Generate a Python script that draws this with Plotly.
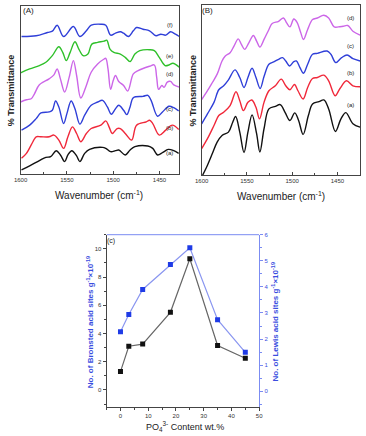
import plotly.graph_objects as go

W, H = 366, 436

# ---------------- Panel A data (wavenumber, %T arbitrary) ----------------
a_f_x = [1599.0, 1583.2, 1571.0, 1565.7, 1560.5, 1553.5, 1543.0, 1536.0, 1529.0, 1523.7, 1513.2, 1508.0, 1502.8,
         1497.5, 1492.3, 1488.8, 1483.6, 1478.3, 1474.8, 1467.8, 1460.8, 1453.8, 1448.6, 1443.3, 1438.1, 1432.8, 1428.6]
a_f_y = [138.0, 138.7, 142.0, 143.3, 149.3, 138.0, 148.0, 138.0, 143.7, 149.3, 150.3, 149.3, 139.3,
         141.3, 142.7, 141.3, 138.0, 143.7, 147.0, 145.3, 143.7, 138.7, 140.3, 139.3, 142.7, 140.3, 138.0]

a_e_x = [1600.0, 1590.2, 1579.7, 1572.7, 1565.7, 1558.7, 1554.5, 1550.7, 1546.5, 1541.3, 1537.1, 1532.5, 1527.3,
         1523.1, 1516.8, 1509.8, 1507.0, 1503.5, 1499.3, 1492.3, 1487.0, 1481.8, 1476.6, 1471.3, 1460.8, 1455.6,
         1450.3, 1444.0, 1439.8, 1435.6, 1428.6]
a_e_y = [101.3, 105.3, 108.7, 112.0, 118.7, 127.7, 122.0, 113.7, 122.0, 132.7, 125.3, 118.7, 120.3,
         130.3, 132.0, 133.3, 134.3, 125.3, 122.0, 120.3, 117.0, 112.7, 120.3, 123.7, 124.7, 123.7,
         117.0, 108.7, 109.3, 111.0, 107.0]

a_d_x = [1600.0, 1593.7, 1588.5, 1585.0, 1579.7, 1569.2, 1564.0, 1560.5, 1557.0, 1552.4, 1547.5, 1543.0, 1539.5,
         1535.0, 1529.0, 1523.8, 1516.8, 1509.8, 1508.0, 1505.6, 1502.8, 1500.0, 1497.5, 1494.0, 1488.8, 1484.3,
         1478.3, 1473.1, 1460.8, 1455.6, 1453.1, 1451.0, 1447.5, 1445.1, 1441.6, 1438.1, 1434.6, 1428.6]
a_d_y = [72.0, 74.3, 75.3, 80.3, 89.3, 95.3, 99.3, 105.3, 95.3, 82.0, 97.0, 113.7, 98.7,
         76.0, 88.7, 102.0, 110.3, 115.3, 116.0, 105.3, 84.7, 93.7, 98.7, 92.7, 88.7, 83.0,
         100.3, 103.7, 108.0, 109.3, 97.0, 84.7, 88.7, 86.7, 92.0, 92.7, 89.3, 87.0]

a_c_x = [1599.0, 1590.2, 1583.2, 1578.0, 1569.2, 1565.7, 1562.2, 1558.7, 1553.5, 1550.0, 1545.4, 1541.3, 1536.0,
         1530.8, 1523.8, 1516.8, 1511.5, 1506.3, 1502.1, 1497.5, 1494.0, 1488.8, 1485.3, 1481.8, 1478.3, 1467.8,
         1462.6, 1459.1, 1452.1, 1446.8, 1439.8, 1434.6, 1429.3]
a_c_y = [43.7, 48.7, 55.3, 61.0, 62.0, 63.7, 73.0, 67.0, 50.3, 60.3, 73.0, 65.3, 49.7,
         58.7, 68.7, 72.0, 73.7, 67.0, 59.7, 65.3, 68.7, 63.7, 59.3, 67.0, 76.3, 77.7,
         78.7, 73.7, 57.7, 62.0, 67.7, 66.3, 63.0]

a_b_x = [1599.0, 1593.7, 1586.7, 1583.2, 1578.0, 1569.2, 1564.0, 1558.7, 1553.5, 1548.9, 1544.0, 1539.5, 1535.0,
         1529.0, 1523.8, 1513.3, 1508.0, 1504.5, 1501.0, 1495.8, 1492.3, 1487.0, 1480.1, 1474.8, 1464.3, 1460.8,
         1457.3, 1450.3, 1443.3, 1436.3, 1429.3]
a_b_y = [15.3, 20.3, 32.0, 37.0, 37.0, 37.0, 38.7, 33.7, 25.3, 37.0, 47.0, 40.3, 32.0,
         40.3, 45.3, 48.7, 53.0, 47.0, 40.3, 45.3, 45.3, 40.3, 33.7, 48.7, 52.0, 53.7,
         50.3, 38.7, 43.7, 48.7, 44.3]

a_a_x = [1599.0, 1590.2, 1579.7, 1572.7, 1567.5, 1561.5, 1557.0, 1552.4, 1548.9, 1544.7, 1539.5, 1536.0, 1530.8,
         1525.5, 1511.5, 1508.0, 1502.8, 1497.5, 1494.0, 1487.0, 1481.8, 1476.6, 1462.6, 1457.3, 1452.1, 1446.8,
         1440.5, 1434.6, 1429.3]
a_a_y = [3.7, 7.7, 13.0, 16.3, 17.0, 23.0, 18.7, 12.0, 18.7, 23.0, 17.7, 12.0, 20.3,
         24.3, 26.3, 25.3, 22.0, 23.0, 23.7, 18.7, 23.7, 27.0, 27.7, 25.3, 18.7, 21.0,
         24.3, 23.0, 20.3]

# ---------------- Panel B data ----------------
b_d_x = [1600.0, 1593.6, 1588.2, 1582.9, 1577.5, 1573.9, 1568.6, 1564.3, 1559.6, 1556.1, 1552.5, 1547.9, 1542.9,
         1539.3, 1535.7, 1531.1, 1525.7, 1522.1, 1515.0, 1509.6, 1506.1, 1502.5, 1498.2, 1494.6, 1490.7, 1487.5,
         1482.9, 1477.5, 1472.2, 1465.0, 1459.7, 1453.6, 1449.0, 1443.6, 1438.6, 1432.9, 1425.0]
b_d_y = [76.0, 85.0, 93.3, 101.7, 115.0, 120.0, 123.3, 130.0, 137.3, 131.7, 126.7, 133.3, 140.7,
         135.0, 129.0, 136.7, 146.7, 152.7, 155.0, 158.3, 153.3, 149.3, 157.3, 154.0, 144.0, 136.7,
         146.7, 156.7, 158.3, 161.0, 158.3, 149.3, 149.3, 150.0, 150.7, 145.0, 141.0]

b_c_x = [1600.0, 1593.6, 1586.4, 1581.1, 1575.7, 1570.4, 1563.2, 1557.9, 1553.2, 1548.9, 1544.3, 1540.0, 1535.4,
         1531.1, 1525.7, 1520.4, 1515.0, 1510.7, 1507.1, 1502.9, 1498.2, 1495.4, 1491.4, 1487.5, 1482.9, 1477.5,
         1472.2, 1461.4, 1457.2, 1451.8, 1445.4, 1439.3, 1432.9, 1425.0]
b_c_y = [51.7, 61.7, 73.3, 86.0, 90.0, 96.0, 106.0, 98.3, 88.3, 98.3, 107.7, 98.3, 87.3,
         99.3, 111.7, 114.0, 116.7, 118.3, 115.0, 110.0, 114.3, 115.0, 108.3, 102.7, 111.7, 121.7,
         122.7, 125.0, 121.7, 113.3, 118.3, 121.0, 117.3, 115.0]

b_b_x = [1600.0, 1593.6, 1586.4, 1581.1, 1575.7, 1568.6, 1562.1, 1557.9, 1553.9, 1548.9, 1544.6, 1540.0, 1536.1,
         1531.1, 1525.7, 1518.6, 1512.1, 1507.1, 1502.5, 1497.5, 1493.6, 1487.9, 1482.9, 1477.5, 1472.2, 1465.0,
         1459.7, 1452.5, 1447.2, 1440.0, 1432.9, 1425.0]
b_b_y = [26.7, 36.7, 50.0, 60.0, 63.3, 70.0, 84.0, 75.0, 65.0, 73.3, 75.7, 68.3, 56.7,
         73.3, 85.0, 90.0, 96.7, 90.0, 86.0, 91.3, 85.0, 76.7, 88.3, 97.3, 98.3, 100.7,
         95.0, 80.0, 87.3, 95.0, 90.0, 89.0]

b_a_x = [1598.9, 1593.6, 1588.2, 1582.9, 1577.5, 1570.4, 1565.7, 1562.5, 1557.9, 1553.2, 1548.9, 1544.3, 1539.3,
         1535.7, 1531.1, 1525.7, 1518.6, 1513.2, 1507.9, 1502.5, 1497.1, 1492.9, 1487.9, 1482.1, 1477.5, 1470.4,
         1465.0, 1459.7, 1452.2, 1446.1, 1440.7, 1432.9, 1425.0]
b_a_y = [0.0, 10.0, 21.7, 33.3, 40.0, 43.3, 53.3, 59.0, 43.3, 22.7, 43.3, 60.7, 41.7,
         23.3, 46.7, 66.7, 69.3, 71.0, 63.3, 55.0, 62.7, 55.0, 41.0, 60.0, 71.7, 74.0,
         75.7, 66.7, 44.0, 56.7, 63.0, 51.7, 48.3]

# ---------------- Panel C data ----------------
po4_content = [0, 3, 8, 18, 25, 35, 45]
bronsted_sites = [1.3, 3.1, 3.25, 5.5, 9.3, 3.15, 2.25]
lewis_sites = [2.28, 2.94, 3.9, 4.86, 5.5, 2.74, 1.49]

BLUE = "#2f3fd8"
GREEN = "#2fc02a"
MAGENTA = "#cc66e8"
RED = "#f0283a"
BLACK = "#111111"
FONT = "Liberation Sans, Arial, sans-serif"

fig = go.Figure()

def spec(x, y, color, xa, ya):
    fig.add_trace(go.Scatter(x=x, y=y, mode="lines", xaxis=xa, yaxis=ya,
                             line=dict(color=color, width=1.4, shape="spline", smoothing=1.0),
                             showlegend=False, hoverinfo="skip"))

for (x, y, c) in [(a_a_x, a_a_y, BLACK), (a_b_x, a_b_y, RED), (a_c_x, a_c_y, BLUE),
                  (a_d_x, a_d_y, MAGENTA), (a_e_x, a_e_y, GREEN), (a_f_x, a_f_y, BLUE)]:
    spec(x, y, c, "x", "y")
for (x, y, c) in [(b_a_x, b_a_y, BLACK), (b_b_x, b_b_y, RED), (b_c_x, b_c_y, BLUE),
                  (b_d_x, b_d_y, MAGENTA)]:
    spec(x, y, c, "x2", "y2")

fig.add_trace(go.Scatter(x=po4_content, y=bronsted_sites, mode="lines+markers", xaxis="x3", yaxis="y3",
                         line=dict(color="#666666", width=1.2),
                         marker=dict(symbol="square", size=5, color="#111111"),
                         showlegend=False))
fig.add_trace(go.Scatter(x=po4_content, y=lewis_sites, mode="lines+markers", xaxis="x3", yaxis="y4",
                         line=dict(color="#8a96f0", width=1.2),
                         marker=dict(symbol="square", size=5, color="#1f3be6"),
                         showlegend=False))

def px(x):
    return x / W
def py(y):
    return 1 - y / H

tickfont = dict(family=FONT, size=6, color="#333333")
spec_x = dict(range=[1600, 1429], showline=True, linecolor="#444444", linewidth=1, mirror=True,
              ticks="inside", ticklen=3, tickcolor="#444444", tickvals=[1600, 1550, 1500, 1450],
              minor=dict(tickvals=[1575, 1525, 1475], ticks="inside", ticklen=2, tickcolor="#444444"),
              tickfont=tickfont, showgrid=False, zeroline=False)
spec_y = dict(showline=True, linecolor="#444444", linewidth=1, mirror=True, showticklabels=False,
              ticks="", showgrid=False, zeroline=False)

fig.update_layout(
    width=W, height=H, margin=dict(l=0, r=0, t=0, b=0),
    paper_bgcolor="white", plot_bgcolor="white",
    font=dict(family=FONT, size=7, color="#222222"),
    xaxis=dict(spec_x, domain=[px(14), px(177.3)], anchor="y"),
    yaxis=dict(spec_y, domain=[py(171.7), py(2.7)], range=[0, 169], anchor="x"),
    xaxis2=dict(spec_x, domain=[px(200.7), px(364)], anchor="y2", range=[1600, 1425]),
    yaxis2=dict(spec_y, domain=[py(173.3), py(1.7)], range=[0, 171.7], anchor="x2"),
    xaxis3=dict(domain=[px(102.7), px(260)], anchor="y3", range=[-5, 50], showline=True,
                linecolor="#444444", linewidth=1, ticks="outside", ticklen=3, tickcolor="#444444",
                dtick=10, tick0=0, minor=dict(dtick=5, ticks="outside", ticklen=2, tickcolor="#444444"),
                tickfont=tickfont, showgrid=False, zeroline=False),
    yaxis3=dict(domain=[py(406.7), py(233.3)], anchor="x3", range=[-1.2, 11], showline=True,
                linecolor="#444444", linewidth=1, ticks="outside", ticklen=3, tickcolor="#444444",
                dtick=2, tick0=0, minor=dict(dtick=1, ticks="outside", ticklen=2, tickcolor="#444444"),
                tickfont=tickfont, showgrid=False, zeroline=False),
    yaxis4=dict(overlaying="y3", side="right", anchor="x3", range=[-0.6, 6], showline=True,
                linecolor="#7b8cf2", linewidth=1, ticks="outside", ticklen=3, tickcolor="#7b8cf2",
                dtick=1, tick0=0, minor=dict(dtick=0.5, ticks="outside", ticklen=2, tickcolor="#7b8cf2"),
                tickfont=dict(family=FONT, size=6, color="#3a4ee0"), showgrid=False, zeroline=False),
)

# top blue frame line of panel C
fig.add_shape(type="line", xref="x3", yref="paper", x0=-5, x1=50, y0=py(233.3), y1=py(233.3),
              line=dict(color="#7b8cf2", width=1))

ann = []
def text(x, y, s, size=7, color="#222222", angle=0, bold=False, xanchor="center"):
    if bold:
        s = "<b>" + s + "</b>"
    ann.append(dict(x=px(x), y=py(y), xref="paper", yref="paper", text=s, showarrow=False,
                    font=dict(family=FONT, size=size, color=color), textangle=angle,
                    xanchor=xanchor, yanchor="middle"))

text(22, 8, "(A)", 8)
for lbl, yy in [("(f)", 22), ("(e)", 53), ("(d)", 71), ("(c)", 107), ("(b)", 126), ("(a)", 151)]:
    text(168, yy, lbl, 6)
text(207, 8, "(B)", 8)
for lbl, yy in [("(d)", 15), ("(c)", 43), ("(b)", 70), ("(a)", 103)]:
    text(354, yy, lbl, 6)

text(5, 88, "% Transmittance", 9, "#222222", -90, True)
text(192, 88, "% Transmittance", 9, "#222222", -90, True)
text(95, 193, "Wavenumber (cm<sup>-1</sup>)", 10)
text(282, 194, "Wavenumber (cm<sup>-1</sup>)", 10)

text(107, 240, "(c)", 7)
text(85, 321, "No. of Bronsted acid sites g<sup>-1</sup>×10<sup>-19</sup>", 8, "#3a4ee0", -90, True)
text(276, 321, "No. of Lewis acid sites g<sup>-1</sup>×10<sup>-19</sup>", 8, "#3a4ee0", -90, True)
text(184, 426, "PO<sub>4</sub><sup>3-</sup> Content wt.%", 9)

fig.update_layout(annotations=ann)
fig.write_html("out.html", config={"displayModeBar": False},
               post_script="document.body.style.margin='0';")
